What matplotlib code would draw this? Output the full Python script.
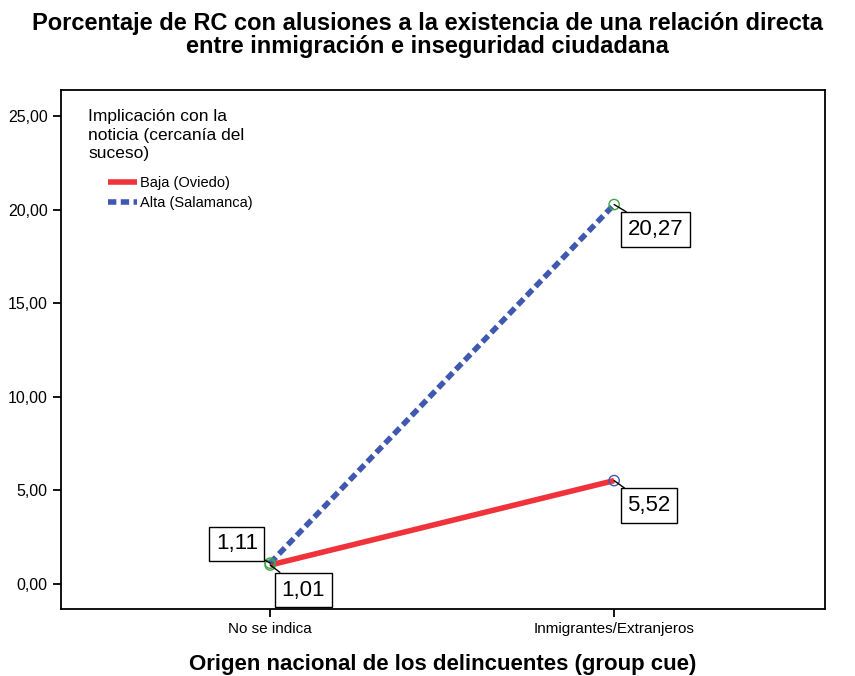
import matplotlib
matplotlib.use("Agg")
import matplotlib.pyplot as plt
from matplotlib.ticker import FuncFormatter

categories = ["No se indica", "Inmigrantes/Extranjeros"]
baja = [1.01, 5.52]
alta = [1.11, 20.27]
yticks = [0, 5, 10, 15, 20, 25]

plt.rcParams['font.family'] = ['Liberation Sans', 'DejaVu Sans']

fig = plt.figure(figsize=(8.55, 6.76), dpi=100)
ax = fig.add_axes([61/855, 1-609/676, 764/855, 519/676])

x = list(range(len(categories)))
ax.plot(x, baja, color="#f0333a", lw=4, solid_capstyle="butt", label="Baja (Oviedo)", zorder=3)
ax.plot(x, alta, color="#3f58b0", lw=4, ls=(0, (1.5, 0.8)), label="Alta (Salamanca)", zorder=4)
ax.scatter(x, baja, s=55, facecolors="none", edgecolors=["#3fa54a", "#3f58b0"], lw=1, zorder=5)
ax.scatter(x, alta, s=55, facecolors="none", edgecolors=["#3fa54a", "#3fa54a"], lw=1, zorder=5)

box = dict(boxstyle="square,pad=0.3", fc="white", ec="black", lw=1)
def lab(xi, yi, txt, dx, dy):
    ax.annotate(txt, xy=(xi, yi), xytext=(dx, dy), textcoords="offset points",
                fontsize=16, bbox=box, ha="center", va="center", zorder=6,
                arrowprops=dict(arrowstyle="-", color="black", lw=1, shrinkA=0, shrinkB=0))

lab(x[0], alta[0], "1,11", -24, 14)
lab(x[0], baja[0], "1,01", 24, -18)
lab(x[1], alta[1], "20,27", 30, -18)
lab(x[1], baja[1], "5,52", 25, -18)

ax.set_xlim(-0.608, 1.613)
ax.set_ylim(-1.34, 26.39)
ax.set_xticks(x)
ax.set_xticklabels(categories, fontsize=11)
ax.set_yticks(yticks)
ax.yaxis.set_major_formatter(FuncFormatter(lambda v, p: f"{v:.2f}".replace(".", ",")))
ax.tick_params(axis="y", labelsize=11.5, length=6, width=1.3)
ax.tick_params(axis="x", length=6, width=1.3)
for s in ax.spines.values():
    s.set_linewidth(1.3)

ax.set_xlabel("Origen nacional de los delincuentes (group cue)", fontsize=16, fontweight="bold", labelpad=13)
fig.text(0.5, 1-35/676, "Porcentaje de RC con alusiones a la existencia de una relación directa\nentre inmigración e inseguridad ciudadana",
         fontsize=17, fontweight="bold", ha="center", va="center", linespacing=1.0)

fig.text(88/855, 1-109/676, "Implicación con la\nnoticia (cercanía del\nsuceso)", fontsize=12.5,
         ha="left", va="top", linespacing=1.3)
leg = ax.legend(loc="upper left", bbox_to_anchor=((108-61)/764, 1-(176-90)/519), frameon=False, fontsize=10.5,
                handlelength=2.0, handletextpad=0.2, labelspacing=0.4, borderaxespad=0.0, borderpad=0.0)

fig.savefig("out.png", dpi=100)
